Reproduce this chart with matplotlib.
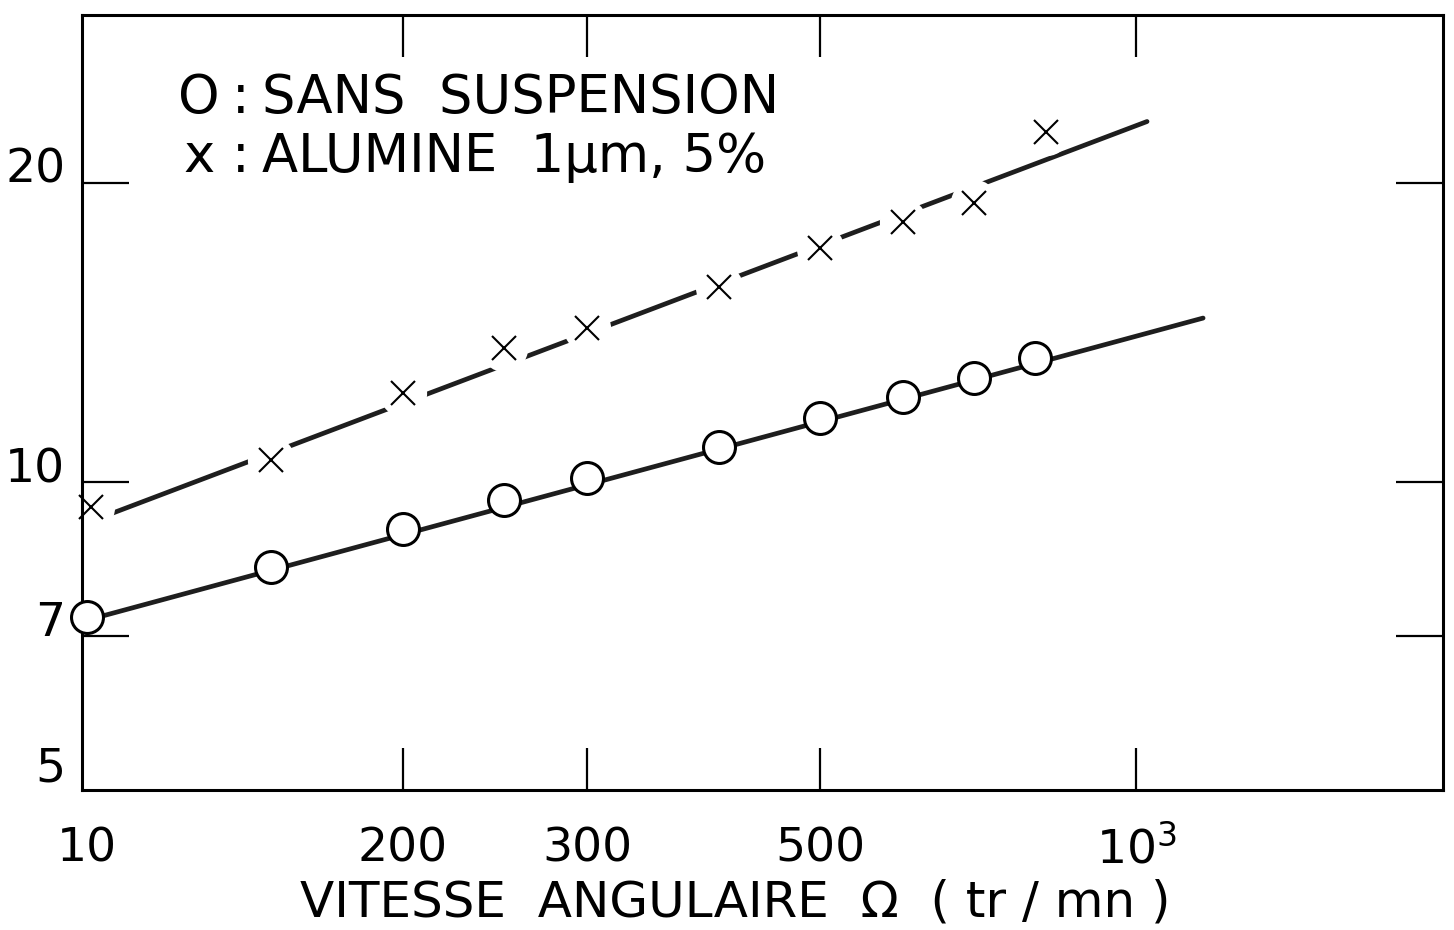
import numpy as np
import matplotlib.pyplot as plt
from matplotlib.ticker import FixedLocator, FixedFormatter

plt.rcParams['font.family'] = ['DejaVu Sans']
plt.rcParams['mathtext.default'] = 'regular'

# O : sans suspension
omega_o = [100, 150, 200, 250, 300, 400, 500, 600, 700, 800]
val_o = [7.31, 8.21, 8.97, 9.59, 10.09, 10.84, 11.6, 12.18, 12.72, 13.33]
fit_o_x = [100, 1158]
fit_o_y = [7.26, 14.62]

# x : alumine 1um, 5%
omega_x = [101, 150, 200, 250, 300, 400, 500, 600, 700, 820]
val_x = [9.44, 10.52, 12.29, 13.64, 14.29, 15.72, 17.21, 18.27, 19.1, 22.5]
fit_x_x = [106, 1024]
fit_x_y = [9.31, 23.05]

# axes
xmajor = [200, 300, 500, 1000]
xmajor_labels = ['200', '300', '500', '$10^3$']
xminor = [100]
xminor_labels = ['10']
ymajor = [7, 10, 20]
ymajor_labels = ['7', '10', '20']
yminor = [5]
yminor_labels = ['5']

W, H = 1454, 930
fig = plt.figure(figsize=(W / 100, H / 100), dpi=100)
L, R, T, B = 82, 1443, 15, 790
ax = fig.add_axes([L / W, 1 - B / H, (R - L) / W, (B - T) / H])
ax.set_xscale('log')
ax.set_yscale('log')
ax.set_xlim(99, 1960)
ax.set_ylim(4.9, 29.5)

lc = '#1e1e1e'
# circles
ax.plot(fit_o_x, fit_o_y, color=lc, lw=3.4, solid_capstyle='round', zorder=2)
ax.plot(omega_o, val_o, ls='none', marker='o', ms=23, mfc='white', mec='black',
        mew=2.2, zorder=3, clip_on=False)

# crosses, line broken around each marker
ax.plot(fit_x_x, fit_x_y, color=lc, lw=3.4, solid_capstyle='round', zorder=2)
ax.plot(omega_x, val_x, ls='none', marker='o', ms=34, mfc='white', mec='none',
        zorder=2.2, clip_on=False)
ax.plot(omega_x, val_x, ls='none', marker='x', ms=17, mec='black', mew=1.5,
        zorder=3, clip_on=False)

# ticks
ax.xaxis.set_major_locator(FixedLocator(xmajor))
ax.xaxis.set_major_formatter(FixedFormatter(xmajor_labels))
ax.xaxis.set_minor_locator(FixedLocator(xminor))
ax.xaxis.set_minor_formatter(FixedFormatter(xminor_labels))
ax.yaxis.set_major_locator(FixedLocator(ymajor))
ax.yaxis.set_major_formatter(FixedFormatter(ymajor_labels))
ax.yaxis.set_minor_locator(FixedLocator(yminor))
ax.yaxis.set_minor_formatter(FixedFormatter(yminor_labels))

ax.tick_params(axis='both', which='both', direction='in', top=True, right=True,
               labelsize=34, width=1.6, color='black')
ax.tick_params(axis='x', which='major', length=30, pad=26)
ax.tick_params(axis='x', which='minor', length=0, pad=26)
ax.tick_params(axis='y', which='major', length=34, pad=12)
ax.tick_params(axis='y', which='minor', length=0, pad=12)
for lab in ax.get_yticklabels(which='both'):
    lab.set_va('baseline')

for s in ax.spines.values():
    s.set_linewidth(2.2)
    s.set_color('black')

ax.set_xlabel('VITESSE  ANGULAIRE  Ω  ( tr / mn )', fontsize=36)
ax.xaxis.label.set_va('baseline')
ax.xaxis.set_label_coords((735 - L) / (R - L), (B - 916) / (B - T))

# legend written in the plot
tx = ax.transAxes
fs = 38
ax.text((178 - L) / (R - L), (B - 113) / (B - T), 'O', fontsize=fs,
        va='baseline', ha='left', transform=tx)
ax.text((232 - L) / (R - L), (B - 113) / (B - T), ':', fontsize=fs,
        va='baseline', ha='left', transform=tx)
ax.text((262 - L) / (R - L), (B - 113) / (B - T), 'SANS  SUSPENSION', fontsize=fs,
        va='baseline', ha='left', transform=tx)
ax.text((183 - L) / (R - L), (B - 172) / (B - T), 'x', fontsize=fs,
        va='baseline', ha='left', transform=tx)
ax.text((232 - L) / (R - L), (B - 172) / (B - T), ':', fontsize=fs,
        va='baseline', ha='left', transform=tx)
ax.text((262 - L) / (R - L), (B - 172) / (B - T), 'ALUMINE  1µm, 5%', fontsize=fs,
        va='baseline', ha='left', transform=tx)

fig.savefig('out.png', dpi=100)
